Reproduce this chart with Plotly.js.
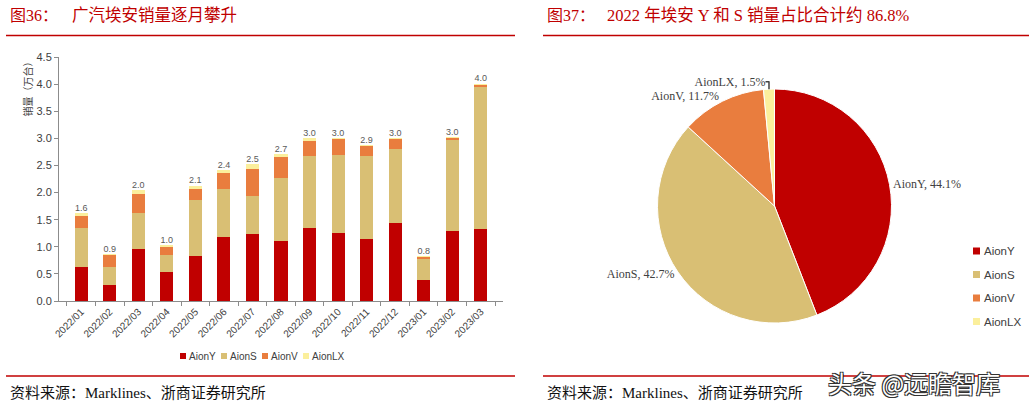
<!DOCTYPE html>
<html>
<head>
<meta charset="utf-8">
<script src="https://cdn.plot.ly/plotly-3.0.1.min.js"></script>
<style>
html, body { margin: 0; padding: 0; background: #fff; }
#chart { width: 1029px; height: 407px; }
</style>
</head>
<body>
<div id="chart"></div>
<script>
// monthly sales, 10k units
var months = ["2022/01","2022/02","2022/03","2022/04","2022/05","2022/06","2022/07","2022/08",
              "2022/09","2022/10","2022/11","2022/12","2023/01","2023/02","2023/03"];
var aionY  = [0.63,0.30,0.95,0.53,0.83,1.18,1.24,1.10,1.34,1.26,1.15,1.43,0.38,1.30,1.33];
var aionS  = [0.71,0.33,0.67,0.32,1.04,0.88,0.69,1.17,1.34,1.44,1.53,1.38,0.40,1.67,2.62];
var aionV  = [0.22,0.22,0.36,0.14,0.19,0.30,0.50,0.39,0.27,0.28,0.17,0.17,0.03,0.03,0.03];
var aionLX = [0.06,0.02,0.06,0.04,0.07,0.06,0.09,0.05,0.06,0.03,0.03,0.03,0.02,0.02,0.03];

// 2022 share, %
var models = ["AionY","AionS","AionV","AionLX"];
var share2022 = [44.1, 42.7, 11.7, 1.5];
var colors = ["#C00000","#D9BF74","#E97D3E","#FBEF9C"];

var W = 1029, H = 407;
var px = function (x) { return x / W; };
var py = function (y) { return 1 - y / H; };

var series = [aionY, aionS, aionV, aionLX];
var totals = months.map(function (m, i) {
    return aionY[i] + aionS[i] + aionV[i] + aionLX[i];
});

var data = [];
for (let i = 0; i < series.length; i++) {
    data.push({
        type: "bar", x: months, y: series[i], name: models[i],
        marker: { color: colors[i] }, hoverinfo: "skip"
    });
}
data.push({
    type: "scatter", mode: "text", x: months, y: totals,
    text: totals.map(function (t) { return t.toFixed(1); }),
    textposition: "top center",
    textfont: { size: 9, color: "#595959", family: "Liberation Sans, Arial, sans-serif" },
    cliponaxis: false, hoverinfo: "skip", showlegend: false
});
data.push({
    type: "pie", values: share2022, labels: models,
    marker: { colors: colors, line: { color: "#fff", width: 1 } },
    sort: false, direction: "clockwise", rotation: 0,
    textposition: "outside", texttemplate: "%{label}, %{percent:.1%}",
    textfont: { family: "Liberation Serif, serif", size: 12, color: "#404040" },
    domain: { x: [px(657.5), px(891.5)], y: [py(323), py(89)] },
    hoverinfo: "none", automargin: false, showlegend: false
});

var red = "#C00000";
var cjk = "Liberation Serif, Noto Sans CJK SC, serif";
var shapes = [
    { type: "line", xref: "paper", yref: "paper", x0: px(6), x1: px(515), y0: py(35.5), y1: py(35.5), line: { color: red, width: 1.5 } },
    { type: "line", xref: "paper", yref: "paper", x0: px(543), x1: px(1029), y0: py(35.5), y1: py(35.5), line: { color: red, width: 1.5 } },
    { type: "line", xref: "paper", yref: "paper", x0: px(6), x1: px(515), y0: py(376), y1: py(376), line: { color: red, width: 1.5 } },
    { type: "line", xref: "paper", yref: "paper", x0: px(543), x1: px(1029), y0: py(376), y1: py(376), line: { color: red, width: 1.5 } }
];
var annotations = [
    { text: "图36：", x: px(8), y: py(16), xanchor: "left", font: { size: 16, color: red, family: cjk } },
    { text: "广汽埃安销量逐月攀升", x: px(70), y: py(16), xanchor: "left", font: { size: 16.5, color: red, family: cjk } },
    { text: "图37：", x: px(545), y: py(16), xanchor: "left", font: { size: 16, color: red, family: cjk } },
    { text: "2022 年埃安 Y 和 S 销量占比合计约 86.8%", x: px(605), y: py(16), xanchor: "left", font: { size: 16.5, color: red, family: cjk } },
    { text: "资料来源：Marklines、浙商证券研究所", x: px(8), y: py(393), xanchor: "left", font: { size: 15, color: "#111", family: cjk } },
    { text: "资料来源：Marklines、浙商证券研究所", x: px(545), y: py(393), xanchor: "left", font: { size: 15, color: "#111", family: cjk } },
    { text: "销量（万台）", x: px(18), y: py(87), textangle: -90, font: { size: 10, color: "#404040", family: "Noto Sans CJK SC" } },
    { text: "头条 @远瞻智库", x: px(826), y: py(382), xanchor: "left",
      font: { size: 24, color: "#fff", family: "Noto Sans CJK SC",
              shadow: "1px 1px 0 #333, -1px -1px 0 #333, 1px -1px 0 #333, -1px 1px 0 #333" } }
];

// bar chart legend (bottom)
var barLegendX = [180, 221, 262, 303];
// pie legend (right)
var pieLegendY = [251, 274.5, 298, 321.5];
for (let i = 0; i < models.length; i++) {
    shapes.push({ type: "rect", xref: "paper", yref: "paper", x0: px(barLegendX[i]), x1: px(barLegendX[i] + 6),
        y0: py(359), y1: py(353), fillcolor: colors[i], line: { width: 0 } });
    annotations.push({ text: models[i], x: px(barLegendX[i] + 7), y: py(356), xanchor: "left",
        font: { size: 10, color: "#404040" } });
    shapes.push({ type: "rect", xref: "paper", yref: "paper", x0: px(973), x1: px(980),
        y0: py(pieLegendY[i] + 3.5), y1: py(pieLegendY[i] - 3.5), fillcolor: colors[i], line: { width: 0 } });
    annotations.push({ text: models[i], x: px(982), y: py(pieLegendY[i]), xanchor: "left",
        font: { size: 11.5, color: "#404040" } });
}
annotations.forEach(function (a) {
    a.xref = "paper"; a.yref = "paper"; a.showarrow = false; a.yanchor = "middle";
});

var layout = {
    width: W, height: H, margin: { l: 0, r: 0, t: 0, b: 0 },
    paper_bgcolor: "#fff", plot_bgcolor: "#fff",
    font: { family: "Liberation Sans, Arial, sans-serif", color: "#404040" },
    barmode: "stack", bargap: 0.54, showlegend: false,
    xaxis: {
        domain: [px(59), px(503)], type: "category",
        showline: true, linecolor: "#8C8C8C", linewidth: 1,
        ticks: "outside", tickson: "boundaries", ticklen: 4, tickcolor: "#8C8C8C",
        tickangle: -45, tickfont: { size: 10, color: "#404040" },
        showgrid: false, zeroline: false
    },
    yaxis: {
        domain: [py(301), py(57)], range: [0, 4.5], dtick: 0.5, tickformat: ".1f",
        showline: true, linecolor: "#8C8C8C", linewidth: 1,
        ticks: "outside", ticklen: 4, tickcolor: "#8C8C8C",
        tickfont: { size: 11, color: "#404040" },
        showgrid: false, zeroline: false
    },
    shapes: shapes,
    annotations: annotations
};

Plotly.newPlot("chart", data, layout, { staticPlot: true });
</script>
</body>
</html>
